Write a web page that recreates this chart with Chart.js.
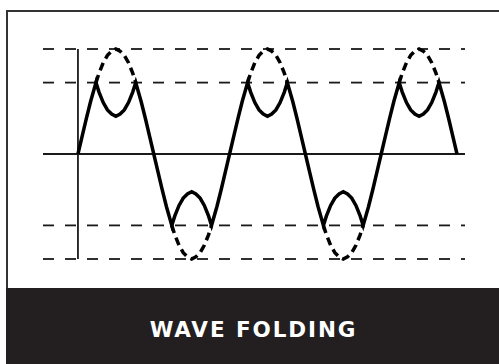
<!DOCTYPE html>
<html>
<head>
<meta charset="utf-8">
<script src="https://cdn.jsdelivr.net/npm/chart.js@4/dist/chart.umd.min.js"></script>
<style>
  html, body { margin: 0; padding: 0; background: #fff; }
  body { width: 499px; height: 364px; position: relative; overflow: hidden; }
  #frame { position: absolute; left: 6px; top: 10px; width: 600px; height: 400px;
           border-left: 2px solid #333; border-top: 2px solid #333; box-sizing: border-box; }
  #bar { position: absolute; left: 6px; top: 288px; width: 493px; height: 76px; background: #231f20; }
  #title { position: absolute; left: 7px; top: 288px; width: 493px; height: 76px;
           color: #fff; font-family: "DejaVu Sans", sans-serif; font-weight: 700; font-size: 21.5px;
           letter-spacing: 1.9px; text-align: center; line-height: 84px; }
  #wrap { position: absolute; left: 0; top: 0; width: 499px; height: 364px; }
</style>
</head>
<body>
<div id="frame"></div>
<div id="bar"></div>
<div id="title">WAVE FOLDING</div>
<div id="wrap"><canvas id="c" width="499" height="364"></canvas></div>
<script>
// phase in degrees (2.5 cycles)
const phase = [
  0,10,20,30,40,42.8,50,60,70,80,90,100,110,120,130,137.2,140,150,160,170,
  180,190,200,210,220,222.8,230,240,250,260,270,280,290,300,310,317.2,320,330,340,350,
  360,370,380,390,400,402.8,410,420,430,440,450,460,470,480,490,497.2,500,510,520,530,
  540,550,560,570,580,582.8,590,600,610,620,630,640,650,660,670,677.2,680,690,700,710,
  720,730,740,750,760,762.8,770,780,790,800,810,820,830,840,850,857.2,860,870,880,890,
  900
];
// folded output wave (solid)
const foldedWave = [
  0,0.17,0.34,0.50,0.64,0.68,0.59,0.49,0.42,0.38,0.36,0.38,0.42,0.49,0.59,0.68,0.64,0.50,0.34,0.17,
  0,-0.17,-0.34,-0.50,-0.64,-0.68,-0.59,-0.49,-0.42,-0.38,-0.36,-0.38,-0.42,-0.49,-0.59,-0.68,-0.64,-0.50,-0.34,-0.17,
  0,0.17,0.34,0.50,0.64,0.68,0.59,0.49,0.42,0.38,0.36,0.38,0.42,0.49,0.59,0.68,0.64,0.50,0.34,0.17,
  0,-0.17,-0.34,-0.50,-0.64,-0.68,-0.59,-0.49,-0.42,-0.38,-0.36,-0.38,-0.42,-0.49,-0.59,-0.68,-0.64,-0.50,-0.34,-0.17,
  0,0.17,0.34,0.50,0.64,0.68,0.59,0.49,0.42,0.38,0.36,0.38,0.42,0.49,0.59,0.68,0.64,0.50,0.34,0.17,
  0
];
// original sine beyond the fold threshold (dashed)
const N = null;
const overshoot = [
  N,N,N,N,N,0.68,0.77,0.87,0.94,0.98,1.00,0.98,0.94,0.87,0.77,0.68,N,N,N,N,
  N,N,N,N,N,-0.68,-0.77,-0.87,-0.94,-0.98,-1.00,-0.98,-0.94,-0.87,-0.77,-0.68,N,N,N,N,
  N,N,N,N,N,0.68,0.77,0.87,0.94,0.98,1.00,0.98,0.94,0.87,0.77,0.68,N,N,N,N,
  N,N,N,N,N,-0.68,-0.77,-0.87,-0.94,-0.98,-1.00,-0.98,-0.94,-0.87,-0.77,-0.68,N,N,N,N,
  N,N,N,N,N,0.68,0.77,0.87,0.94,0.98,1.00,0.98,0.94,0.87,0.77,0.68,N,N,N,N,
  N
];
// guide levels: peak and fold threshold
const guideLevels = [1, 0.68, -0.68, -1];
const xRange = [-83, 919];

const pts = (xs, ys) => xs.map((x, i) => ({ x: x, y: ys[i] }));

const guideSets = guideLevels.map(v => ({
  data: [{ x: xRange[0], y: v }, { x: xRange[1], y: v }],
  borderColor: '#1a1a1a', borderWidth: 1.8, borderDash: [11, 11],
  pointRadius: 0, clip: false, order: 5
}));

new Chart(document.getElementById('c'), {
  type: 'line',
  data: {
    datasets: [
      ...guideSets,
      { data: [{ x: xRange[0], y: 0 }, { x: xRange[1], y: 0 }],
        borderColor: '#1a1a1a', borderWidth: 1.8, pointRadius: 0, clip: false, order: 4 },
      { data: [{ x: 0, y: -1 }, { x: 0, y: 1 }],
        borderColor: '#1a1a1a', borderWidth: 1.8, pointRadius: 0, clip: false, order: 4 },
      { data: pts(phase, overshoot), borderColor: '#000', borderWidth: 3.5, borderDash: [8, 5],
        pointRadius: 0, tension: 0, spanGaps: false, clip: false, order: 2 },
      { data: pts(phase, foldedWave), borderColor: '#000', borderWidth: 3.5,
        pointRadius: 0, tension: 0, clip: false, order: 1, borderJoinStyle: 'miter' }
    ]
  },
  options: {
    responsive: false, animation: false, events: [],
    layout: { padding: { left: 43, right: 34, top: 49, bottom: 105 } },
    plugins: { legend: { display: false }, tooltip: { enabled: false } },
    scales: {
      x: { type: 'linear', display: false, min: xRange[0], max: xRange[1] },
      y: { type: 'linear', display: false, min: -1, max: 1 }
    }
  }
});
</script>
</body>
</html>
